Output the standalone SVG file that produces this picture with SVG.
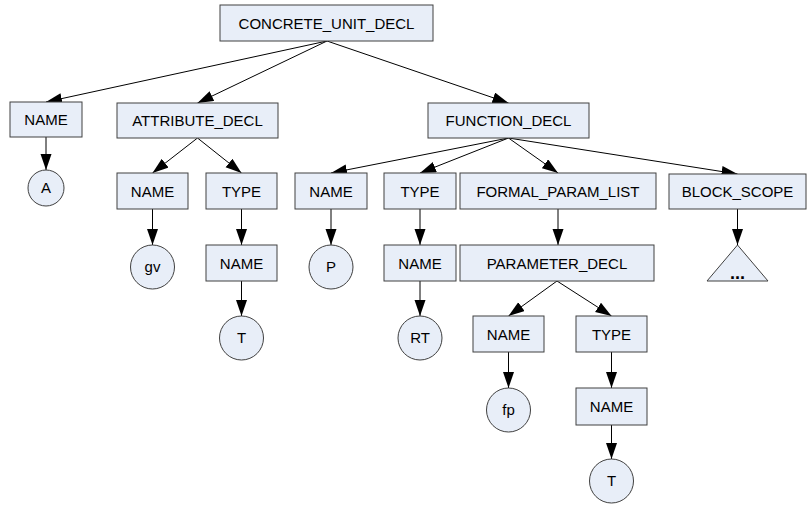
<svg xmlns="http://www.w3.org/2000/svg" width="807" height="507" viewBox="0 0 807 507">
  <style>
    .box { fill: #e8eef8; stroke: #404040; stroke-width: 1; }
    .leaf { fill: #e8eef8; stroke: #404040; stroke-width: 1; }
    .lbl { font-family: "Liberation Sans", Arial, sans-serif; font-size: 15px; fill: #000; text-anchor: middle; }
    .edge { stroke: #000; stroke-width: 1; fill: none; marker-end: url(#arrow); }
  </style>
  <defs>
    <marker id="arrow" markerUnits="userSpaceOnUse" markerWidth="16" markerHeight="12" refX="16" refY="5.5" orient="auto">
      <path d="M0,0 L16,5.5 L0,11 z" fill="#000"/>
    </marker>
  </defs>
  <rect width="807" height="507" fill="#fff"/>

  <g id="connectors">
    <line class="edge" x1="327" y1="41" x2="46" y2="102"/>
    <line class="edge" x1="327" y1="41" x2="197.5" y2="103"/>
    <line class="edge" x1="327" y1="41" x2="508.5" y2="103"/>
    <line class="edge" x1="46" y1="137" x2="46" y2="170"/>
    <line class="edge" x1="197.5" y1="138" x2="152.5" y2="173"/>
    <line class="edge" x1="197.5" y1="138" x2="241.5" y2="173"/>
    <line class="edge" x1="508.5" y1="138" x2="331" y2="173"/>
    <line class="edge" x1="508.5" y1="138" x2="420" y2="173"/>
    <line class="edge" x1="508.5" y1="138" x2="558" y2="173"/>
    <line class="edge" x1="508.5" y1="138" x2="737.5" y2="174"/>
    <line class="edge" x1="152.5" y1="209" x2="152.5" y2="245"/>
    <line class="edge" x1="241.5" y1="209" x2="241.5" y2="245"/>
    <line class="edge" x1="241.5" y1="281" x2="241.5" y2="316"/>
    <line class="edge" x1="331" y1="209" x2="331" y2="245"/>
    <line class="edge" x1="420" y1="209" x2="420" y2="245"/>
    <line class="edge" x1="420" y1="281" x2="420" y2="316"/>
    <line class="edge" x1="558" y1="209" x2="558" y2="245"/>
    <line class="edge" x1="557" y1="281" x2="508.5" y2="316"/>
    <line class="edge" x1="557" y1="281" x2="611.5" y2="316"/>
    <line class="edge" x1="508.5" y1="352" x2="508.5" y2="388"/>
    <line class="edge" x1="611.5" y1="352" x2="611.5" y2="388"/>
    <line class="edge" x1="611.5" y1="425" x2="611.5" y2="459"/>
    <line class="edge" x1="737.5" y1="209" x2="737.5" y2="245"/>
  </g>

  <g id="concrete_unit_decl">
    <rect class="box" x="220" y="5" width="213" height="36"/>
    <text class="lbl" x="326.5" y="28.5">CONCRETE_UNIT_DECL</text>
  </g>

  <g id="name_unit">
    <rect class="box" x="10" y="102" width="72" height="35"/>
    <text class="lbl" x="46" y="125">NAME</text>
  </g>
  <g id="leaf_a">
    <circle class="leaf" cx="46" cy="188" r="18"/>
    <text class="lbl" x="46" y="193">A</text>
  </g>

  <g id="attribute_decl">
    <rect class="box" x="117" y="103" width="161" height="35"/>
    <text class="lbl" x="197.5" y="126">ATTRIBUTE_DECL</text>
  </g>
  <g id="attr_name">
    <rect class="box" x="117" y="173" width="71" height="36"/>
    <text class="lbl" x="152.5" y="196.5">NAME</text>
  </g>
  <g id="leaf_gv">
    <circle class="leaf" cx="152.5" cy="267" r="22"/>
    <text class="lbl" x="152.5" y="272">gv</text>
  </g>
  <g id="attr_type">
    <rect class="box" x="206" y="173" width="71" height="36"/>
    <text class="lbl" x="241.5" y="196.5">TYPE</text>
  </g>
  <g id="attr_type_name">
    <rect class="box" x="206" y="245" width="71" height="36"/>
    <text class="lbl" x="241.5" y="268.5">NAME</text>
  </g>
  <g id="leaf_t1">
    <circle class="leaf" cx="241.5" cy="338" r="22"/>
    <text class="lbl" x="241.5" y="343">T</text>
  </g>

  <g id="function_decl">
    <rect class="box" x="428" y="103" width="161" height="35"/>
    <text class="lbl" x="508.5" y="126">FUNCTION_DECL</text>
  </g>
  <g id="func_name">
    <rect class="box" x="295" y="173" width="72" height="36"/>
    <text class="lbl" x="331" y="196.5">NAME</text>
  </g>
  <g id="leaf_p">
    <circle class="leaf" cx="331" cy="267" r="22"/>
    <text class="lbl" x="331" y="272">P</text>
  </g>
  <g id="func_type">
    <rect class="box" x="384" y="173" width="72" height="36"/>
    <text class="lbl" x="420" y="196.5">TYPE</text>
  </g>
  <g id="func_type_name">
    <rect class="box" x="384" y="245" width="72" height="36"/>
    <text class="lbl" x="420" y="268.5">NAME</text>
  </g>
  <g id="leaf_rt">
    <circle class="leaf" cx="420" cy="338" r="22"/>
    <text class="lbl" x="420" y="343">RT</text>
  </g>

  <g id="formal_param_list">
    <rect class="box" x="460" y="173" width="196" height="36"/>
    <text class="lbl" x="558" y="196.5">FORMAL_PARAM_LIST</text>
  </g>
  <g id="parameter_decl">
    <rect class="box" x="460" y="245" width="194" height="36"/>
    <text class="lbl" x="557" y="268.5">PARAMETER_DECL</text>
  </g>
  <g id="param_name">
    <rect class="box" x="473" y="316" width="71" height="36"/>
    <text class="lbl" x="508.5" y="339.5">NAME</text>
  </g>
  <g id="leaf_fp">
    <circle class="leaf" cx="508.5" cy="410" r="22"/>
    <text class="lbl" x="508.5" y="415">fp</text>
  </g>
  <g id="param_type">
    <rect class="box" x="576" y="316" width="71" height="36"/>
    <text class="lbl" x="611.5" y="339.5">TYPE</text>
  </g>
  <g id="param_type_name">
    <rect class="box" x="576" y="388" width="71" height="37"/>
    <text class="lbl" x="611.5" y="412">NAME</text>
  </g>
  <g id="leaf_t2">
    <circle class="leaf" cx="611.5" cy="481" r="22"/>
    <text class="lbl" x="611.5" y="486">T</text>
  </g>

  <g id="block_scope">
    <rect class="box" x="669" y="174" width="137" height="35"/>
    <text class="lbl" x="737.5" y="197">BLOCK_SCOPE</text>
  </g>
  <g id="block_body">
    <polygon class="leaf" points="737.5,245 707,281 768,281"/>
    <text class="lbl" x="737.5" y="279" style="font-weight:bold;font-size:18px">...</text>
  </g>
</svg>
